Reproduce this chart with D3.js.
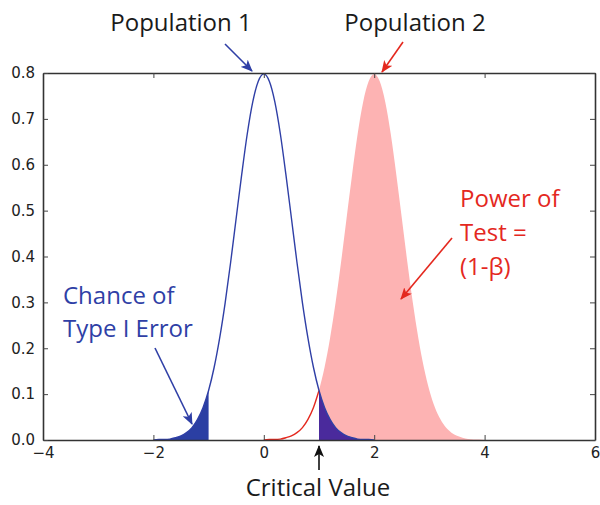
<!DOCTYPE html>
<html><head><meta charset="utf-8">
<script src="https://cdn.jsdelivr.net/npm/d3@7"></script>
<style>body{margin:0;background:#fff}</style>
</head><body><svg id="c" width="600" height="505"></svg>
<script>
// Population 1 density
const pop1X = [-2.0,-1.9,-1.8,-1.7,-1.6,-1.5,-1.4,-1.3,-1.2,-1.1,-1.0,-0.9,-0.8,-0.7,-0.6,-0.5,-0.4,-0.3,-0.2,-0.1,0.0,0.1,0.2,0.3,0.4,0.5,0.6,0.7,0.8,0.9,1.0,1.1,1.2,1.3,1.4,1.5,1.6,1.7,1.8,1.9,2.0];
const pop1Y = [0.000,0.001,0.001,0.002,0.005,0.009,0.016,0.027,0.045,0.071,0.108,0.158,0.222,0.299,0.388,0.484,0.579,0.667,0.737,0.782,0.798,0.782,0.737,0.667,0.579,0.484,0.388,0.299,0.222,0.158,0.108,0.071,0.045,0.027,0.016,0.009,0.005,0.002,0.001,0.001,0.000];
// Population 2 density
const pop2X = [0.0,0.1,0.2,0.3,0.4,0.5,0.6,0.7,0.8,0.9,1.0,1.1,1.2,1.3,1.4,1.5,1.6,1.7,1.8,1.9,2.0,2.1,2.2,2.3,2.4,2.5,2.6,2.7,2.8,2.9,3.0,3.1,3.2,3.3,3.4,3.5,3.6,3.7,3.8,3.9,4.0];
const pop2Y = [0.000,0.001,0.001,0.002,0.005,0.009,0.016,0.027,0.045,0.071,0.108,0.158,0.222,0.299,0.388,0.484,0.579,0.667,0.737,0.782,0.798,0.782,0.737,0.667,0.579,0.484,0.388,0.299,0.222,0.158,0.108,0.071,0.045,0.027,0.016,0.009,0.005,0.002,0.001,0.001,0.000];
const criticalValue = 1;
const xTicks = [-4,-2,0,2,4,6];
const xTickLabels = ["\u22124","\u22122","0","2","4","6"];
const yTicks = [0,0.1,0.2,0.3,0.4,0.5,0.6,0.7,0.8];
const yTickLabels = ["0.0","0.1","0.2","0.3","0.4","0.5","0.6","0.7","0.8"];

const svg = d3.select("#c");
const L = 43, R = 595, T = 73, B = 440;
const x = d3.scaleLinear().domain([-4,6]).range([L,R]);
const y = d3.scaleLinear().domain([0,0.8]).range([B,T]);

const p1 = pop1X.map((v,i)=>({x:v,y:pop1Y[i]}));
const p2 = pop2X.map((v,i)=>({x:v,y:pop2Y[i]}));

const area = d3.area().x(d=>x(d.x)).y0(y(0)).y1(d=>y(d.y)).curve(d3.curveMonotoneX);
const line = d3.line().x(d=>x(d.x)).y(d=>y(d.y)).curve(d3.curveMonotoneX);

// pink power area
svg.append("path").datum(p2.filter(d=>d.x>=criticalValue)).attr("d",area).attr("fill","#fdb3b3");
// right tail (overlap)
svg.append("path").datum(p1.filter(d=>d.x>=criticalValue)).attr("d",area).attr("fill","#4a2a9c");
// left tail
svg.append("path").datum(p1.filter(d=>d.x<=-criticalValue)).attr("d",area).attr("fill","#2b3fa3");
// red line for pop2 below critical value
svg.append("path").datum(p2.filter(d=>d.x<=criticalValue)).attr("d",line)
  .attr("fill","none").attr("stroke","#e4281e").attr("stroke-width",1.4);
// blue line pop1
svg.append("path").datum(p1).attr("d",line)
  .attr("fill","none").attr("stroke","#2f3fa6").attr("stroke-width",1.4);

// axes
const fmtX = d=>xTickLabels[xTicks.indexOf(d)];
const fmtY = d=>yTickLabels[yTicks.indexOf(d)];
const axStyle = g=>{
  g.select(".domain").attr("stroke","#333").attr("stroke-width",1.6);
  g.selectAll(".tick line").attr("stroke","#444").attr("stroke-width",1);
  g.selectAll("text").attr("font-family","DejaVu Sans").attr("font-size",15).attr("fill","#222");
};
svg.append("g").attr("transform",`translate(0,${B})`)
  .call(d3.axisBottom(x).tickValues(xTicks).tickFormat(fmtX).tickSizeInner(-5).tickSizeOuter(0).tickPadding(7)).call(axStyle);
svg.append("g").attr("transform",`translate(0,${T})`)
  .call(d3.axisTop(x).tickValues(xTicks).tickFormat("").tickSizeInner(-5).tickSizeOuter(0)).call(axStyle);
svg.append("g").attr("transform",`translate(${L},0)`)
  .call(d3.axisLeft(y).tickValues(yTicks).tickFormat(fmtY).tickSizeInner(-5).tickSizeOuter(0).tickPadding(8)).call(axStyle);
svg.append("g").attr("transform",`translate(${R},0)`)
  .call(d3.axisRight(y).tickValues(yTicks).tickFormat("").tickSizeInner(-5).tickSizeOuter(0)).call(axStyle);

// arrow markers
const defs = svg.append("defs");
function marker(id,color){
  defs.append("marker").attr("id",id).attr("viewBox","0 0 12 10").attr("refX",11).attr("refY",5)
    .attr("markerWidth",12).attr("markerHeight",10).attr("markerUnits","userSpaceOnUse").attr("orient","auto")
    .append("path").attr("d","M0,0 L12,5 L0,10 L3,5 Z").attr("fill",color);
}
marker("mb","#2f3fa6"); marker("mr","#e4281e"); marker("mk","#111");
function arrow(x1,y1,x2,y2,color,m){
  svg.append("line").attr("x1",x1).attr("y1",y1).attr("x2",x2).attr("y2",y2)
    .attr("stroke",color).attr("stroke-width",1.6).attr("marker-end",`url(#${m})`);
}
const font = "Open Sans";
function label(txt,xp,yp,color,anchor){
  svg.append("text").attr("x",xp).attr("y",yp).attr("fill",color).attr("font-family",font)
    .attr("font-size",24).attr("text-anchor",anchor).text(txt);
}
label("Population 1",181,31,"#1a1a1a","middle");
arrow(225,44,252,71,"#2f3fa6","mb");
label("Population 2",415,31,"#1a1a1a","middle");
arrow(403,42,382,72,"#e4281e","mr");
label("Chance of",63,304,"#2f3fa6","start");
label("Type I Error",63,337,"#2f3fa6","start");
arrow(155,348,192,424,"#2f3fa6","mb");
label("Power of",460,207,"#e4281e","start");
label("Test =",460,241,"#e4281e","start");
label("(1-\u03b2)",460,275,"#e4281e","start");
arrow(452,238,401,299,"#e4281e","mr");
arrow(x(criticalValue),470,x(criticalValue),446,"#111","mk");
label("Critical Value",318,496,"#1a1a1a","middle");
</script></body></html>
